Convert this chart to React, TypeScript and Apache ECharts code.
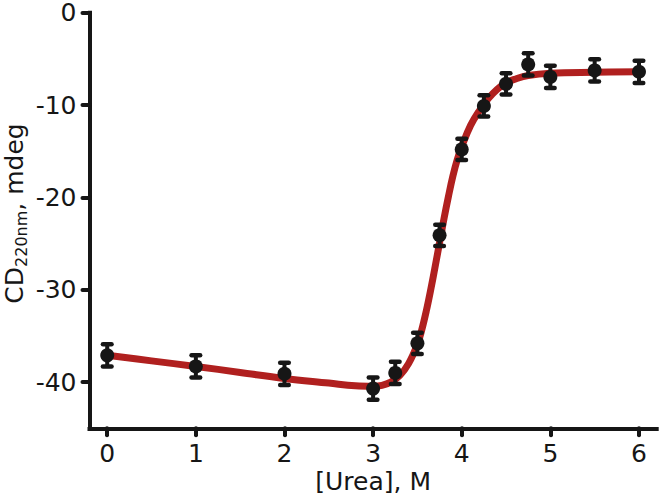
import React, { useEffect, useRef } from "react";
import * as echarts from "echarts";

const ureaX = [0, 1, 2, 3, 3.25, 3.5, 3.75, 4, 4.25, 4.5, 4.75, 5, 5.5, 6];
const cdY = [-37.1, -38.3, -39.1, -40.7, -39.0, -35.8, -24.1, -14.8, -10.1, -7.7, -5.6, -6.95, -6.25, -6.4];
const cdErr = [1.2, 1.2, 1.2, 1.2, 1.2, 1.15, 1.15, 1.15, 1.15, 1.15, 1.2, 1.2, 1.2, 1.2];

const fitX = [0, 0.5, 1, 1.5, 2, 2.5, 2.8, 3.0, 3.1, 3.2, 3.3, 3.4, 3.5, 3.55, 3.6, 3.65, 3.7, 3.75, 3.8, 3.85, 3.9, 3.95, 4.0, 4.1, 4.2, 4.3, 4.4, 4.5, 4.6, 4.75, 5.0, 5.5, 6.0];
const fitY = [-37.1, -37.7, -38.3, -38.95, -39.6, -40.1, -40.4, -40.45, -40.35, -40.0, -39.3, -38.0, -35.9, -34.3, -32.3, -30.0, -27.5, -24.9, -22.3, -19.9, -17.7, -15.9, -14.5, -12.2, -10.6, -9.3, -8.3, -7.6, -7.2, -6.8, -6.55, -6.45, -6.4];

const xTicks = [0, 1, 2, 3, 4, 5, 6];
const yTicks = [-40, -30, -20, -10, 0];

const INK = "#161616";
const RED = "#b0201f";
const FONT = "DejaVu Sans";

export default function App() {
  const ref = useRef<HTMLDivElement>(null);
  useEffect(() => {
    if (!ref.current) return;
    const chart = echarts.init(ref.current, null, { renderer: "svg" });
    const axisLine = { show: true, onZero: false, lineStyle: { color: INK, width: 4, cap: "square" } };
    const tickStyle = { show: true, length: 7, lineStyle: { color: INK, width: 4, cap: "round" } };
    chart.setOption({
      animation: false,
      backgroundColor: "#ffffff",
      grid: { left: 89.5, right: 3.3, top: 12.7, bottom: 73.7, containLabel: false, outerBoundsMode: "none" },
      xAxis: {
        type: "value",
        min: -0.2,
        max: 6.2,
        axisLine,
        splitLine: { show: false },
        axisTick: { ...tickStyle, customValues: xTicks },
        axisLabel: {
          customValues: xTicks,
          color: INK,
          fontSize: 25,
          lineHeight: 18,
          fontFamily: FONT,
          margin: 16,
        },
        name: "[Urea], M",
        nameLocation: "middle",
        nameGap: 42,
        nameMoveOverlap: false,
        nameTextStyle: { color: INK, fontSize: 25, lineHeight: 22, fontFamily: FONT },
      },
      yAxis: {
        type: "value",
        min: -45,
        max: 0,
        axisLine,
        splitLine: { show: false },
        axisTick: { ...tickStyle, customValues: yTicks },
        axisLabel: {
          customValues: yTicks,
          color: INK,
          fontSize: 25,
          lineHeight: 18,
          fontFamily: FONT,
          margin: 13,
        },
        name: "{a|CD}{b|220nm}{a|, mdeg}",
        nameLocation: "middle",
        nameGap: 60,
        nameMoveOverlap: false,
        nameTextStyle: {
          color: INK,
          fontFamily: FONT,
          padding: [0, 0, 0, 14],
          rich: {
            a: { fontSize: 25, fontFamily: FONT, color: INK, lineHeight: 30, verticalAlign: "middle" },
            b: { fontSize: 16, fontFamily: FONT, color: INK, lineHeight: 16, verticalAlign: "bottom" },
          },
        },
      },
      series: [
        {
          type: "line",
          data: fitX.map((x, i) => [x, fitY[i]]),
          smooth: 0.4,
          showSymbol: false,
          symbol: "none",
          lineStyle: { color: RED, width: 7, cap: "round", join: "round" },
          z: 1,
          silent: true,
        },
        {
          type: "custom",
          data: ureaX.map((x, i) => [x, cdY[i], cdErr[i]]),
          encode: { x: 0, y: 1 },
          z: 2,
          silent: true,
          renderItem: (params: any, api: any) => {
            const x = api.value(0);
            const y = api.value(1);
            const e = api.value(2);
            const top = api.coord([x, y + e]);
            const bot = api.coord([x, y - e]);
            const hw = 4.3;
            const st = { stroke: INK, lineWidth: 4.5, lineCap: "round" };
            return {
              type: "group",
              children: [
                { type: "line", shape: { x1: top[0], y1: top[1], x2: bot[0], y2: bot[1] }, style: { stroke: INK, lineWidth: 4 } },
                { type: "line", shape: { x1: top[0] - hw, y1: top[1], x2: top[0] + hw, y2: top[1] }, style: st },
                { type: "line", shape: { x1: bot[0] - hw, y1: bot[1], x2: bot[0] + hw, y2: bot[1] }, style: st },
              ],
            };
          },
        },
        {
          type: "scatter",
          data: ureaX.map((x, i) => [x, cdY[i]]),
          symbol: "circle",
          symbolSize: 14,
          itemStyle: { color: INK, opacity: 1 },
          z: 3,
          silent: true,
        },
      ],
    });
    return () => chart.dispose();
  }, []);
  return (
    <div
      ref={ref}
      style={{ position: "fixed", left: 0, top: 0, width: 660, height: 502, background: "#fff" }}
    />
  );
}
